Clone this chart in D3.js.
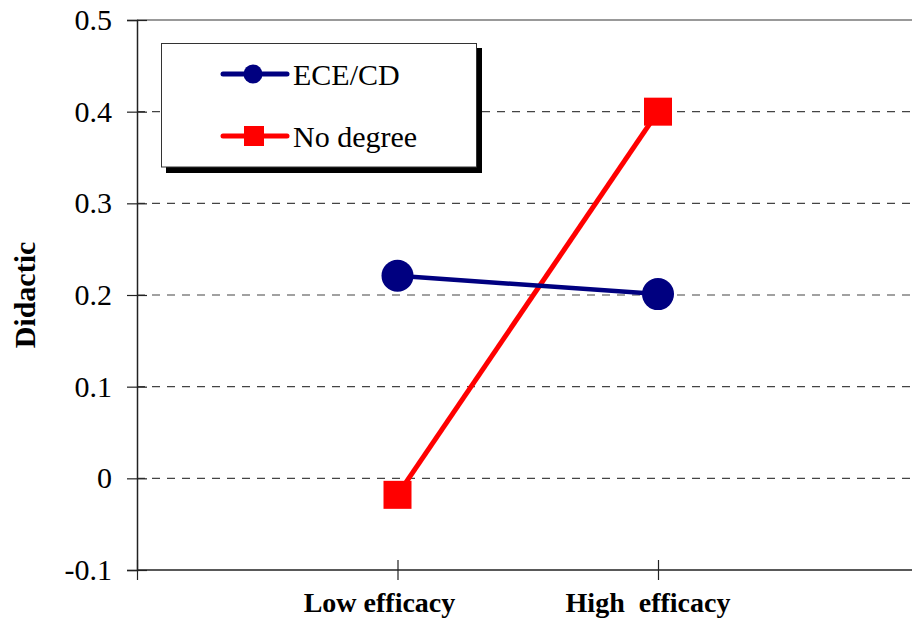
<!DOCTYPE html>
<html><head><meta charset="utf-8">
<script src="https://cdn.jsdelivr.net/npm/d3@7"></script>
<style>
html,body{margin:0;padding:0;background:#fff;}
svg{display:block;}
svg text{font-family:"Liberation Serif","Times New Roman",Tinos,"DejaVu Serif",serif !important;}
</style></head>
<body><svg id="c" width="912" height="624"></svg>
<script>
const categories = ["", "Low efficacy", "High  efficacy", " "];
const pointCategories = ["Low efficacy", "High  efficacy"];
const eceValues = [0.221, 0.201];
const noDegreeValues = [-0.018, 0.400];
const yTicks = [-0.1, 0, 0.1, 0.2, 0.3, 0.4, 0.5];
const seriesNames = ["ECE/CD", "No degree"];

const svg = d3.select("#c");
const x = d3.scalePoint().domain(categories).range([137, 918.5]);
const y = d3.scaleLinear().domain([-0.1, 0.5]).range([570, 20]);

// gridlines
svg.append("g").selectAll("line").data(yTicks.filter(t => t > -0.1 && t < 0.5)).join("line")
  .attr("x1", 137).attr("x2", 912).attr("y1", d => y(d)).attr("y2", d => y(d))
  .attr("stroke", "#444").attr("stroke-width", 1.2).attr("stroke-dasharray", "8,7");
// top border
svg.append("line").attr("x1", 137).attr("x2", 912).attr("y1", y(0.5)).attr("y2", y(0.5))
  .attr("stroke", "#999").attr("stroke-width", 2);

// y axis
const yAxis = svg.append("g").attr("transform", "translate(137,0)")
  .call(d3.axisLeft(y).tickValues(yTicks).tickSize(10).tickPadding(15)
    .tickFormat(d => String(+d.toFixed(1))));
yAxis.attr("font-family", null);
yAxis.select(".domain").attr("stroke", "#222").attr("stroke-width", 1.5);
yAxis.selectAll(".tick line").attr("x1", -10).attr("x2", 10).attr("stroke", "#222").attr("stroke-width", 1.2);
yAxis.selectAll(".tick text").attr("font-size", 30).attr("fill", "#000");

// x axis
const xAxis = svg.append("g").attr("transform", "translate(0,570)")
  .call(d3.axisBottom(x).tickSize(10).tickFormat(""));
xAxis.select(".domain").attr("stroke", "#222").attr("stroke-width", 1.5).attr("d", "M137,0H912");
xAxis.selectAll(".tick line").attr("y1", -10).attr("y2", 10).attr("stroke", "#222").attr("stroke-width", 1.2);
svg.append("g").selectAll("text").data(pointCategories).join("text")
  .attr("x", (d, i) => x(d) + (i === 0 ? -18 : -10)).attr("y", 612)
  .attr("text-anchor", "middle").attr("font-size", 28).attr("font-weight", "bold")
  .style("white-space", "pre").text(d => d);

// y label
svg.append("text").attr("transform", "translate(35,295) rotate(-90)")
  .attr("text-anchor", "middle").attr("font-size", 30).attr("font-weight", "bold").text("Didactic");

const line = d3.line().x((d, i) => x(pointCategories[i])).y(d => y(d));

// No degree series
svg.append("path").datum(noDegreeValues).attr("d", line).attr("fill", "none")
  .attr("stroke", "#ff0000").attr("stroke-width", 5);
// ECE series
svg.append("path").datum(eceValues).attr("d", line).attr("fill", "none")
  .attr("stroke", "#000080").attr("stroke-width", 4.5);
svg.append("g").selectAll("circle").data(eceValues).join("circle")
  .attr("cx", (d, i) => x(pointCategories[i])).attr("cy", d => y(d)).attr("r", 16).attr("fill", "#000080");
svg.append("g").selectAll("rect").data(noDegreeValues).join("rect")
  .attr("x", (d, i) => x(pointCategories[i]) - 14).attr("y", d => y(d) - 14)
  .attr("width", 28).attr("height", 28).attr("fill", "#ff0000");

// legend
const lg = svg.append("g");
lg.append("rect").attr("x", 166).attr("y", 48).attr("width", 316).attr("height", 125).attr("fill", "#000");
lg.append("rect").attr("x", 161.5).attr("y", 43.5).attr("width", 315).attr("height", 123.5)
  .attr("fill", "#fff").attr("stroke", "#333").attr("stroke-width", 1);
const items = lg.selectAll("g.item").data(seriesNames).join("g").attr("class", "item")
  .attr("transform", (d, i) => `translate(0,${i === 0 ? 74 : 136})`);
items.append("line").attr("x1", 223).attr("x2", 287).attr("y1", 0).attr("y2", 0)
  .attr("stroke", (d, i) => i === 0 ? "#000080" : "#ff0000").attr("stroke-width", 5)
  .attr("stroke-linecap", "round");
items.filter((d, i) => i === 0).append("circle").attr("cx", 253).attr("cy", 0).attr("r", 9.5).attr("fill", "#000080");
items.filter((d, i) => i === 1).append("rect").attr("x", 244).attr("y", -10).attr("width", 20).attr("height", 20).attr("fill", "#ff0000");
items.append("text").attr("x", 293).attr("y", 11).attr("font-size", 30).text(d => d);
</script></body></html>
